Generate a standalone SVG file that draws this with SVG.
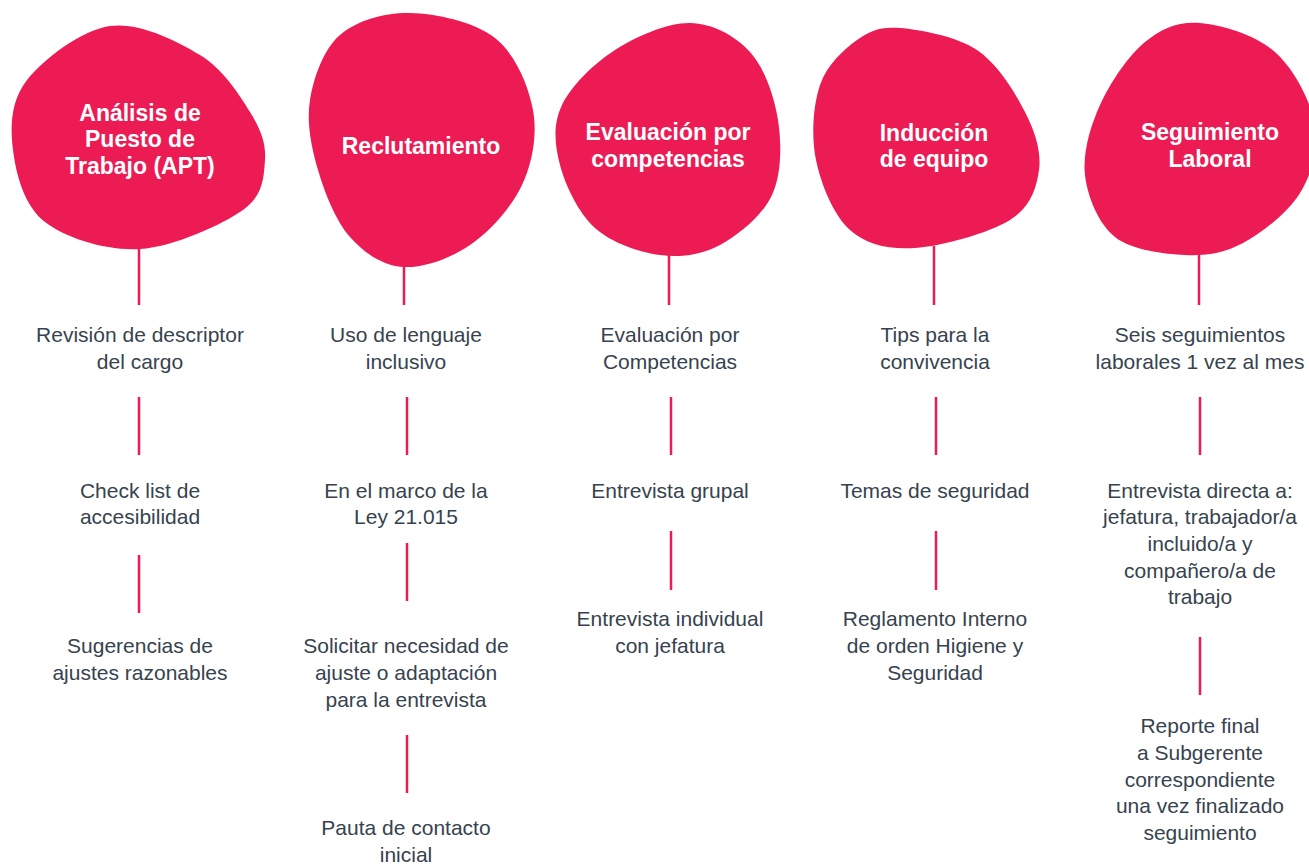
<svg xmlns="http://www.w3.org/2000/svg" width="1309" height="866" viewBox="0 0 1309 866">
<style>
.blob{fill:#ED1B53}
.head{font-family:"Liberation Sans",Arial,sans-serif;font-weight:bold;font-size:23px;fill:#ffffff;text-anchor:middle}
.item{font-family:"Liberation Sans",Arial,sans-serif;font-size:21px;fill:#36434e;text-anchor:middle}
.conn line{stroke:#ED1B53;stroke-width:2.5}
</style>
<rect width="1309" height="866" fill="#ffffff"/>
<g class="conn" id="connectors">
<line x1="139" y1="248" x2="139" y2="305"/>
<line x1="139" y1="397" x2="139" y2="455"/>
<line x1="139" y1="555" x2="139" y2="613"/>
<line x1="404" y1="265" x2="404" y2="305"/>
<line x1="407" y1="397" x2="407" y2="455"/>
<line x1="407" y1="543" x2="407" y2="601"/>
<line x1="407" y1="735" x2="407" y2="793"/>
<line x1="669" y1="253" x2="669" y2="305"/>
<line x1="671" y1="397" x2="671" y2="455"/>
<line x1="671" y1="531" x2="671" y2="590"/>
<line x1="934" y1="246" x2="934" y2="305"/>
<line x1="936" y1="397" x2="936" y2="455"/>
<line x1="936" y1="531" x2="936" y2="590"/>
<line x1="1199" y1="253" x2="1199" y2="305"/>
<line x1="1200" y1="397" x2="1200" y2="455"/>
<line x1="1200" y1="637" x2="1200" y2="695"/>
</g>
<g id="apt">
<path class="blob" d="M110,26 C138.8,21.8 176.7,40.7 200,55 C223.3,69.3 239.2,94.5 250,112 C260.8,129.5 266.2,143.7 265,160 C263.8,176.3 263.8,195.2 243,210 C222.2,224.8 173,247 140,249 C107,251 66.2,238.5 45,222 C23.8,205.5 16,173.7 13,150 C10,126.3 10.8,100.7 27,80 C43.2,59.3 81.2,30.2 110,26 Z"/>
<text class="head" x="140" y="121">Análisis de</text>
<text class="head" x="140" y="147">Puesto de</text>
<text class="head" x="140" y="174">Trabajo (APT)</text>
</g>
<g id="reclutamiento">
<path class="blob" d="M410,13 C435.8,13.5 474.5,21.8 495,38 C515.5,54.2 528.5,85.5 533,110 C537.5,134.5 532.5,162.5 522,185 C511.5,207.5 489.8,231.3 470,245 C450.2,258.7 423,268.3 403,267 C383,265.7 364.2,253.2 350,237 C335.8,220.8 324.7,192.8 318,170 C311.3,147.2 306.3,122.5 310,100 C313.7,77.5 323.3,49.5 340,35 C356.7,20.5 384.2,12.5 410,13 Z"/>
<text class="head" x="421" y="154">Reclutamiento</text>
</g>
<g id="evaluacion">
<path class="blob" d="M690,23 C712.5,23.3 735.3,35.8 750,52 C764.7,68.2 774.3,96.2 778,120 C781.7,143.8 781.7,174.2 772,195 C762.3,215.8 738.7,235 720,245 C701.3,255 680.8,257.8 660,255 C639.2,252.2 611.7,243 595,228 C578.3,213 565.5,185.5 560,165 C554.5,144.5 552.8,124.2 562,105 C571.2,85.8 593.7,63.7 615,50 C636.3,36.3 667.5,22.7 690,23 Z"/>
<text class="head" x="668" y="140">Evaluación por</text>
<text class="head" x="668" y="167">competencias</text>
</g>
<g id="induccion">
<path class="blob" d="M900,28 C920,29.7 956.2,36 977,50 C997.8,64 1014.7,92 1025,112 C1035.3,132 1041.5,152 1039,170 C1036.5,188 1030.7,207 1010,220 C989.3,233 941.7,246.3 915,248 C888.3,249.7 866.5,244.7 850,230 C833.5,215.3 821,184.2 816,160 C811,135.8 813.2,105 820,85 C826.8,65 843.7,49.5 857,40 C870.3,30.5 880,26.3 900,28 Z"/>
<text class="head" x="934" y="141">Inducción</text>
<text class="head" x="934" y="167">de equipo</text>
</g>
<g id="seguimiento">
<path class="blob" d="M1200,23 C1221.7,24.7 1255.8,35 1275,52 C1294.2,69 1310.8,101.5 1315,125 C1319.2,148.5 1312,173.3 1300,193 C1288,212.7 1262.2,232.7 1243,243 C1223.8,253.3 1206.3,256 1185,255 C1163.7,254 1131.7,250.3 1115,237 C1098.3,223.7 1087.5,197 1085,175 C1082.5,153 1090,127.2 1100,105 C1110,82.8 1128.3,55.7 1145,42 C1161.7,28.3 1178.3,21.3 1200,23 Z"/>
<text class="head" x="1210" y="140">Seguimiento</text>
<text class="head" x="1210" y="167">Laboral</text>
</g>
<g id="apt-1"><text class="item" x="140" y="342">Revisión de descriptor</text><text class="item" x="140" y="369">del cargo</text></g>
<g id="apt-2"><text class="item" x="140" y="498">Check list de</text><text class="item" x="140" y="524">accesibilidad</text></g>
<g id="apt-3"><text class="item" x="140" y="653">Sugerencias de</text><text class="item" x="140" y="680">ajustes razonables</text></g>
<g id="rec-1"><text class="item" x="406" y="342">Uso de lenguaje</text><text class="item" x="406" y="369">inclusivo</text></g>
<g id="rec-2"><text class="item" x="406" y="498">En el marco de la</text><text class="item" x="406" y="524">Ley 21.015</text></g>
<g id="rec-3"><text class="item" x="406" y="653">Solicitar necesidad de</text><text class="item" x="406" y="680">ajuste o adaptación</text><text class="item" x="406" y="707">para la entrevista</text></g>
<g id="rec-4"><text class="item" x="406" y="835">Pauta de contacto</text><text class="item" x="406" y="862">inicial</text></g>
<g id="eva-1"><text class="item" x="670" y="342">Evaluación por</text><text class="item" x="670" y="369">Competencias</text></g>
<g id="eva-2"><text class="item" x="670" y="498">Entrevista grupal</text></g>
<g id="eva-3"><text class="item" x="670" y="626">Entrevista individual</text><text class="item" x="670" y="653">con jefatura</text></g>
<g id="ind-1"><text class="item" x="935" y="342">Tips para la</text><text class="item" x="935" y="369">convivencia</text></g>
<g id="ind-2"><text class="item" x="935" y="498">Temas de seguridad</text></g>
<g id="ind-3"><text class="item" x="935" y="626">Reglamento Interno</text><text class="item" x="935" y="653">de orden Higiene y</text><text class="item" x="935" y="680">Seguridad</text></g>
<g id="seg-1"><text class="item" x="1200" y="342">Seis seguimientos</text><text class="item" x="1200" y="369">laborales 1 vez al mes</text></g>
<g id="seg-2"><text class="item" x="1200" y="498">Entrevista directa a:</text><text class="item" x="1200" y="524">jefatura, trabajador/a</text><text class="item" x="1200" y="551">incluido/a y</text><text class="item" x="1200" y="578">compañero/a de</text><text class="item" x="1200" y="604">trabajo</text></g>
<g id="seg-3"><text class="item" x="1200" y="733">Reporte final</text><text class="item" x="1200" y="760">a Subgerente</text><text class="item" x="1200" y="787">correspondiente</text><text class="item" x="1200" y="813">una vez finalizado</text><text class="item" x="1200" y="840">seguimiento</text></g>
</svg>
